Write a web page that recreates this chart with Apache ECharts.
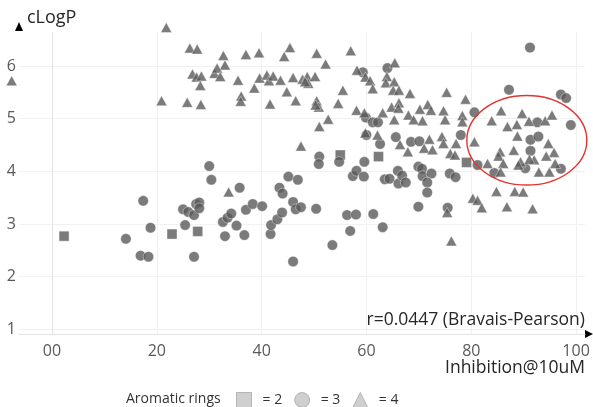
<!DOCTYPE html>
<html>
<head>
<meta charset="utf-8">
<script src="https://cdn.jsdelivr.net/npm/echarts@6/dist/echarts.min.js"></script>
<style>
html, body { margin: 0; padding: 0; background: #fff; }
#scatter { width: 593px; height: 407px; }
</style>
</head>
<body>
<div id="scatter"></div>
<script>
// Data
// ------------------------------

// Tick labels as printed on the original (note the "00")
var xTickValues = [0, 20, 40, 60, 80, 100];
var xTickLabels = ['00', '20', '40', '60', '80', '100'];
var yTickValues = [1, 2, 3, 4, 5, 6];
var yTickLabels = ['1', '2', '3', '4', '5', '6'];

var ringNames = ['= 2', '= 3', '= 4'];

// [Inhibition@10uM, cLogP]
var rings2 = [
    [2.3, 2.77], [22.9, 2.81], [27.8, 2.86], [55.0, 4.31], [62.3, 4.28], [79.1, 4.17]
];

var rings3 = [
    [14.1, 2.72], [16.9, 2.40], [18.4, 2.38], [17.4, 3.44], [18.8, 2.93], [25.0, 3.28],
    [26.0, 3.23], [27.1, 3.17], [27.5, 3.38], [28.1, 3.41], [28.1, 3.30], [25.4, 2.98],
    [27.1, 2.38], [30.0, 4.10], [30.4, 3.84], [35.8, 3.69], [32.6, 3.04], [33.5, 3.12],
    [34.2, 3.20], [35.2, 2.97], [33.0, 2.77], [36.7, 2.79], [37.0, 3.27], [38.3, 3.38],
    [40.1, 3.34], [41.7, 2.81], [41.8, 2.98], [43.0, 3.09], [43.9, 3.22], [43.4, 3.69],
    [44.0, 3.58], [45.1, 3.90], [46.9, 3.84], [46.0, 3.42], [46.5, 3.28], [47.5, 3.32],
    [50.4, 3.29], [46.0, 2.29], [56.3, 3.17], [58.0, 3.18], [61.3, 3.19], [56.9, 2.87],
    [63.1, 2.94], [53.5, 2.60], [51.0, 4.28], [50.9, 4.14], [54.8, 4.18], [59.6, 4.18],
    [57.4, 3.91], [58.1, 4.01], [59.5, 3.90], [63.5, 3.85], [64.4, 3.86], [66.0, 4.01],
    [66.1, 3.77], [66.8, 3.92], [67.5, 3.79], [69.9, 4.09], [70.6, 4.05], [70.7, 3.91],
    [72.4, 3.96], [71.6, 3.79], [75.9, 3.96], [77.0, 3.89], [71.6, 3.60], [69.9, 3.33],
    [75.5, 3.31], [59.3, 5.88], [64.0, 5.96], [59.9, 5.02], [61.2, 4.93], [62.2, 4.93],
    [60.0, 4.69], [62.6, 4.52], [65.6, 4.65], [68.5, 4.56], [70.1, 4.57], [78.0, 4.69],
    [80.6, 5.12], [81.2, 4.12], [87.2, 5.55], [91.2, 6.35], [97.1, 5.46], [98.1, 5.39],
    [92.6, 4.93], [99.0, 4.88], [91.3, 4.60], [92.8, 4.66], [91.3, 4.39], [90.3, 4.06],
    [97.1, 4.05], [84.4, 3.97]
];

var rings4 = [
    [-7.7, 5.72],
    [21.8, 6.73], [26.3, 6.34], [27.7, 6.32], [32.7, 6.20], [37.0, 6.22], [39.5, 6.25],
    [33.0, 6.02], [26.8, 5.85], [27.6, 5.79], [28.5, 5.81], [28.3, 5.63], [31.0, 5.86],
    [31.5, 5.96], [32.1, 5.80], [35.5, 5.73], [39.6, 5.77], [38.6, 5.58], [41.0, 5.83],
    [41.4, 5.72], [42.2, 5.81], [20.9, 5.34], [25.8, 5.31], [28.4, 5.27], [36.1, 5.43],
    [36.0, 5.33], [41.6, 5.28], [33.7, 3.61],
    [45.4, 6.35], [44.3, 6.18], [50.5, 6.24], [57.0, 6.29], [52.2, 6.04], [43.6, 5.73],
    [46.0, 5.78], [47.8, 5.75], [48.7, 5.80], [48.9, 5.67], [50.2, 5.80], [48.3, 5.70],
    [44.8, 5.51], [46.5, 5.34], [50.5, 5.34], [50.9, 5.22], [50.3, 5.26], [54.6, 5.29],
    [55.5, 5.54], [52.7, 4.99], [51.0, 4.85], [47.5, 4.48],
    [58.2, 5.92], [59.8, 5.79], [60.7, 5.72], [61.2, 5.57], [65.4, 6.06], [63.9, 5.80],
    [63.7, 5.68], [65.3, 5.70], [65.1, 5.54], [66.2, 5.54], [58.1, 5.16], [59.6, 5.11],
    [63.1, 5.11], [64.8, 5.22], [65.3, 4.98], [66.2, 5.30], [66.1, 5.20],
    [59.8, 4.73], [62.1, 4.69], [66.4, 4.51],
    [68.3, 5.48], [75.3, 5.50], [78.9, 5.37], [68.0, 5.07], [69.0, 4.98], [70.2, 5.18],
    [70.7, 4.96], [71.7, 5.27], [72.3, 5.16], [74.7, 5.15], [75.0, 4.98], [78.3, 5.06],
    [78.3, 4.94],
    [67.9, 4.37], [72.0, 4.61], [71.0, 4.44], [72.6, 4.41], [74.4, 4.66], [74.7, 4.53],
    [77.1, 4.53], [76.0, 4.34], [76.9, 4.31], [80.6, 4.56], [83.1, 4.15],
    [83.9, 4.96], [85.7, 5.15], [86.9, 4.85], [88.7, 4.89], [89.7, 5.10], [91.0, 4.95],
    [94.1, 4.96], [95.4, 5.07], [88.8, 4.67], [94.7, 4.53], [88.1, 4.40], [85.5, 4.37],
    [85.2, 4.29], [95.8, 4.36], [94.3, 4.29], [92.0, 4.22], [91.1, 4.23], [86.1, 4.15],
    [89.4, 4.18], [89.0, 4.12], [92.9, 3.99], [94.9, 3.99], [96.0, 4.15], [85.6, 3.99],
    [84.8, 3.62], [88.3, 3.62], [89.9, 3.61], [80.3, 3.49], [81.2, 3.45], [82.0, 3.31],
    [86.8, 3.33], [91.7, 3.29], [75.4, 3.22], [76.2, 2.68]
];

// Highlighted cluster: centre and radii in data units
var clusterCenter = [90.6, 4.59];
var clusterRadius = [11.45, 0.85];

var correlationText = 'r=0.0447 (Bravais-Pearson)';

// Axis extents
var xMin = -6.3, xMax = 101.7;
var yMin = 0.913, yMax = 6.645;


// Chart
// ------------------------------

var scatter_element = document.getElementById('scatter');
var scatter = echarts.init(scatter_element, null, { renderer: 'canvas' });

var fontFamily = '"Open Sans", "Noto Sans", sans-serif';
var markColor = '#5a5a5a';
var legendIcon = { color: '#c3c3c3', borderColor: '#a8a8a8', borderWidth: 1 };

scatter.setOption({
    animation: false,

    textStyle: {
        fontFamily: fontFamily
    },

    grid: {
        left: 19,
        right: 8,
        top: 32,
        bottom: 73,
        containLabel: false
    },

    legend: {
        left: 236,
        top: 392,
        padding: 0,
        itemWidth: 15,
        itemHeight: 15,
        itemGap: 12,
        textStyle: {
            fontSize: 14,
            color: '#333',
            padding: [0, 0, 0, 6]
        },
        data: [
            { name: ringNames[0], icon: 'rect', itemStyle: legendIcon },
            { name: ringNames[1], icon: 'circle', itemStyle: legendIcon },
            { name: ringNames[2], icon: 'triangle', itemStyle: legendIcon }
        ]
    },

    xAxis: {
        type: 'value',
        min: xMin,
        max: xMax,
        axisLine: { show: true, lineStyle: { color: '#e3e3e3', width: 1 } },
        axisTick: { show: false },
        axisLabel: {
            margin: 9,
            fontSize: 16,
            color: '#595959',
            showMinLabel: false,
            showMaxLabel: false,
            formatter: function (v) {
                var i = xTickValues.indexOf(Math.round(v * 1000) / 1000);
                return i < 0 ? '' : xTickLabels[i];
            }
        },
        splitLine: {
            show: true,
            showMinLine: false,
            showMaxLine: false,
            lineStyle: { color: '#f1f1f1', width: 1 }
        }
    },

    yAxis: {
        type: 'value',
        min: yMin,
        max: yMax,
        axisLine: { show: true, lineStyle: { color: '#e3e3e3', width: 1 } },
        axisTick: { show: false },
        axisLabel: {
            margin: 3,
            fontSize: 16,
            color: '#595959',
            showMinLabel: false,
            showMaxLabel: false,
            formatter: function (v) {
                var i = yTickValues.indexOf(Math.round(v * 1000) / 1000);
                return i < 0 ? '' : yTickLabels[i];
            }
        },
        splitLine: {
            show: true,
            showMinLine: false,
            showMaxLine: false,
            lineStyle: { color: '#f1f1f1', width: 1 }
        }
    },

    series: [{
        name: ringNames[0],
        type: 'scatter',
        symbol: 'rect',
        symbolSize: 10,
        clip: false,
        itemStyle: { color: markColor, borderColor: 'rgba(255,255,255,0.8)', borderWidth: 0.6 },
        data: rings2
    }, {
        name: ringNames[1],
        type: 'scatter',
        symbol: 'circle',
        symbolSize: 10.5,
        clip: false,
        itemStyle: { color: markColor, borderColor: 'rgba(255,255,255,0.8)', borderWidth: 0.6 },
        data: rings3
    }, {
        name: ringNames[2],
        type: 'scatter',
        symbol: 'triangle',
        symbolSize: [11, 10],
        clip: false,
        itemStyle: { color: markColor, borderColor: 'rgba(255,255,255,0.8)', borderWidth: 0.6 },
        data: rings4
    }]
});


//
// Annotations placed from the axis scales
//

var toPx = function (p) {
    return scatter.convertToPixel({ gridIndex: 0 }, p);
};

var topLeft = toPx([xMin, yMax]);
var bottomRight = toPx([xMax, yMin]);
var c = toPx(clusterCenter);
var cEdge = toPx([clusterCenter[0] + clusterRadius[0], clusterCenter[1] + clusterRadius[1]]);

scatter.setOption({
    graphic: [
        // Y axis arrow
        {
            type: 'polygon',
            shape: { points: [[topLeft[0], topLeft[1] - 10], [topLeft[0] - 4, topLeft[1] - 1], [topLeft[0] + 4, topLeft[1] - 1]] },
            style: { fill: '#000' }
        },
        // X axis arrow
        {
            type: 'polygon',
            shape: { points: [[bottomRight[0] + 8, bottomRight[1]], [bottomRight[0], bottomRight[1] - 4], [bottomRight[0], bottomRight[1] + 4]] },
            style: { fill: '#000' }
        },
        // Axis names
        {
            type: 'text',
            x: topLeft[0] + 8,
            y: topLeft[1] - 14,
            style: { text: 'cLogP', fontSize: 18, fill: '#262626', fontFamily: fontFamily, verticalAlign: 'middle' }
        },
        {
            type: 'text',
            x: bottomRight[0],
            y: bottomRight[1] + 34,
            style: { text: 'Inhibition@10uM', fontSize: 17.5, fill: '#262626', fontFamily: fontFamily, align: 'right', verticalAlign: 'middle' }
        },
        // Correlation
        {
            type: 'text',
            x: bottomRight[0],
            y: bottomRight[1] - 14,
            style: { text: correlationText, fontSize: 17.5, fill: '#262626', fontFamily: fontFamily, align: 'right', verticalAlign: 'middle' }
        },
        // Legend title
        {
            type: 'text',
            x: 126,
            y: 399,
            style: { text: 'Aromatic rings', fontSize: 14, fill: '#333', fontFamily: fontFamily, verticalAlign: 'middle' }
        },
        // Highlighted cluster
        {
            type: 'ellipse',
            shape: { cx: c[0], cy: c[1], rx: cEdge[0] - c[0], ry: c[1] - cEdge[1] },
            style: { fill: 'none', stroke: '#e3342f', lineWidth: 1.4 },
            z: 10
        }
    ]
});
</script>
</body>
</html>
